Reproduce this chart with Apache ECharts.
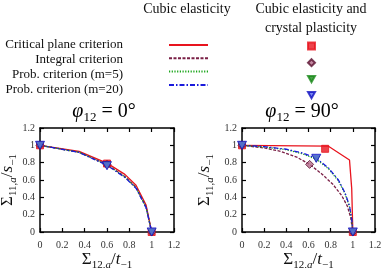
<!DOCTYPE html>
<html>
<head>
<meta charset="utf-8">
<script src="https://cdn.jsdelivr.net/npm/echarts@6/dist/echarts.min.js"></script>
<style>
  html, body { margin: 0; padding: 0; background: #fff; }
  #chart { width: 382px; height: 268px; }
</style>
</head>
<body>
<div id="chart"></div>
<script>
// legend / series names
const names = ["Critical plane criterion", "Integral criterion", "Prob. criterion (m=5)", "Prob. criterion (m=20)"];
const axisTicks = [0, 0.2, 0.4, 0.6, 0.8, 1, 1.2];

// phi12 = 0 : cubic elasticity curves [x, y]
const left_cp = [[0, 1], [0.35, 0.93], [0.6, 0.795], [0.76, 0.665], [0.86, 0.54], [0.95, 0.31], [1, 0]];
const left_int = [[0, 1], [0.35, 0.92], [0.6, 0.778], [0.76, 0.64], [0.86, 0.515], [0.95, 0.29], [1, 0]];
const left_m5 = [[0, 1], [0.35, 0.92], [0.6, 0.775], [0.76, 0.635], [0.86, 0.51], [0.95, 0.285], [1, 0]];
const left_m20 = [[0, 1], [0.35, 0.918], [0.6, 0.77], [0.76, 0.63], [0.86, 0.505], [0.95, 0.28], [1, 0]];
// phi12 = 0 : crystal plasticity points
const left_cp_pts = [[0, 1], [0.6, 0.79], [1, 0]];
const left_int_pts = [[0, 1], [0.6, 0.78], [1, 0]];
const left_m5_pts = [[0, 1], [0.6, 0.77], [1, 0]];
const left_m20_pts = [[0, 1], [0.6, 0.765], [1, 0]];

// phi12 = 90
const right_cp = [[0, 1], [0.78, 0.99], [0.97, 0.83], [0.99, 0.5], [1, 0]];
const right_int = [[0, 1], [0.2, 0.97], [0.35, 0.93], [0.5, 0.86], [0.61, 0.78], [0.72, 0.67], [0.82, 0.55], [0.9, 0.42], [0.95, 0.3], [0.98, 0.17], [1, 0]];
const right_m5 = [[0, 1], [0.2, 0.98], [0.4, 0.95], [0.55, 0.9], [0.67, 0.84], [0.78, 0.73], [0.87, 0.59], [0.93, 0.44], [0.97, 0.29], [0.99, 0.14], [1, 0]];
const right_m20 = [[0, 1], [0.2, 0.985], [0.4, 0.955], [0.55, 0.91], [0.67, 0.85], [0.78, 0.74], [0.87, 0.6], [0.93, 0.45], [0.97, 0.3], [0.99, 0.15], [1, 0]];
const right_cp_pts = [[0, 1], [0.75, 0.96], [1, 0]];
const right_int_pts = [[0, 1], [0.61, 0.78], [1, 0]];
const right_m5_pts = [[0, 1], [0.67, 0.845], [1, 0]];
const right_m20_pts = [[0, 1], [0.67, 0.85], [1, 0]];

const serif = "Liberation Serif";
const downTri = "path://M0,0 L10,0 L5,9 Z";
const lineStyles = [
  { color: "#e8141e", width: 1.3, type: "solid" },
  { color: "#7a1f45", width: 1.3, type: [3, 1.5] },
  { color: "#1aa51a", width: 1.3, type: [1.2, 1.5] },
  { color: "#1a1adc", width: 1.3, type: [5, 2, 1.5, 2] }
];
const markers = [
  { symbol: "rect", size: 7, rotate: 0, color: "#e8141e", border: "#e8141e" },
  { symbol: "diamond", size: 8, rotate: 0, color: "#b46a8a", border: "#5a1030" },
  { symbol: downTri, size: 7, rotate: 0, color: "#1a8a1a", border: "#1a8a1a" },
  { symbol: downTri, size: 9, rotate: 0, color: "#5a6af0", border: "#1010c0" }
];

function richSet(main, sub) {
  return {
    m: { fontFamily: serif, fontSize: main, lineHeight: main + 5, color: "#111" },
    i: { fontFamily: serif, fontSize: main, lineHeight: main + 5, fontStyle: "italic", color: "#111" },
    s: { fontFamily: serif, fontSize: sub, color: "#111", verticalAlign: "bottom" },
    si: { fontFamily: serif, fontSize: sub, fontStyle: "italic", color: "#111", verticalAlign: "bottom" }
  };
}

const grids = [
  { left: 40, top: 128, width: 134, height: 104, containLabel: false, outerBoundsMode: "none" },
  { left: 242, top: 128, width: 133, height: 104, containLabel: false, outerBoundsMode: "none" }
];

function mainX(i) {
  return {
    type: "value", gridIndex: i, min: 0, max: 1.2, interval: 0.2,
    name: "{m|Σ}{s|12,}{si|a}{m|/}{i|t}{s|−1}", nameLocation: "middle", nameGap: 12,
    nameTextStyle: { rich: richSet(17, 11) },
    axisLine: { show: true, onZero: false, lineStyle: { color: "#000", width: 1.5 } },
    axisTick: { inside: true, length: 4, lineStyle: { color: "#000", width: 1.2 } },
    axisLabel: { fontFamily: serif, fontSize: 10, color: "#333", margin: 8 },
    splitLine: { show: false }
  };
}
function mirrorX(i) {
  return {
    type: "value", gridIndex: i, position: "top", min: 0, max: 1.2, interval: 0.2,
    axisLine: { show: true, onZero: false, lineStyle: { color: "#000", width: 1.5 } },
    axisTick: { inside: true, length: 4, lineStyle: { color: "#000", width: 1.2 } },
    axisLabel: { show: false }, splitLine: { show: false }
  };
}
function mainY(i, gap) {
  return {
    type: "value", gridIndex: i, min: 0, max: 1.2, interval: 0.2,
    name: "{m|Σ}{s|11,}{si|a}{m|/}{i|s}{s|−1}", nameLocation: "middle", nameGap: gap, nameRotate: 90,
    nameTextStyle: { rich: richSet(17, 11) },
    axisLine: { show: true, onZero: false, lineStyle: { color: "#000", width: 1.5 } },
    axisTick: { inside: true, length: 4, lineStyle: { color: "#000", width: 1.2 } },
    axisLabel: { fontFamily: serif, fontSize: 10, color: "#333", margin: 5 },
    splitLine: { show: false }
  };
}
function mirrorY(i) {
  return {
    type: "value", gridIndex: i, position: "right", min: 0, max: 1.2, interval: 0.2,
    axisLine: { show: true, onZero: false, lineStyle: { color: "#000", width: 1.5 } },
    axisTick: { inside: true, length: 4, lineStyle: { color: "#000", width: 1.2 } },
    axisLabel: { show: false }, splitLine: { show: false }
  };
}

const curves = [[left_cp, left_int, left_m5, left_m20], [right_cp, right_int, right_m5, right_m20]];
const points = [[left_cp_pts, left_int_pts, left_m5_pts, left_m20_pts], [right_cp_pts, right_int_pts, right_m5_pts, right_m20_pts]];

const series = [];
[0, 1].forEach(function (g) {
  names.forEach(function (n, k) {
    series.push({
      name: n, type: "line", xAxisIndex: g * 2, yAxisIndex: g * 2,
      data: curves[g][k], symbol: "none", lineStyle: lineStyles[k], z: 2,
      itemStyle: { color: "transparent" }
    });
  });
});
[0, 1].forEach(function (g) {
  names.forEach(function (n, k) {
    series.push({
      name: n + " (CP)", type: "scatter", xAxisIndex: g * 2, yAxisIndex: g * 2,
      data: points[g][k], symbol: markers[k].symbol, symbolSize: markers[k].size,
      symbolRotate: markers[k].rotate, symbolKeepAspect: true, z: 5,
      itemStyle: { color: markers[k].color, borderColor: markers[k].border, borderWidth: 1 }
    });
  });
});

const labelTexts = names.map(function (n, k) {
  return {
    type: "text", x: 123, y: 45 + k * 14.7,
    style: { text: n, font: "13px " + serif, fill: "#111", textAlign: "right", textVerticalAlign: "middle" }
  };
});

function header(text, x, y) {
  return {
    type: "text", x: x, y: y,
    style: { text: text, font: "14px " + serif, fill: "#111", textAlign: "center", textVerticalAlign: "middle" }
  };
}
function plotTitle(text, x) {
  return {
    type: "text", x: x, y: 99,
    style: { text: text, rich: richSet(20, 13), textAlign: "center", textVerticalAlign: "top" }
  };
}

const option = {
  animation: false,
  grid: grids,
  xAxis: [mainX(0), mirrorX(0), mainX(1), mirrorX(1)],
  yAxis: [mainY(0, 20), mirrorY(0), mainY(1, 26), mirrorY(1)],
  legend: [
    {
      data: names, orient: "vertical", left: 168, top: 38, padding: 0,
      itemWidth: 39, itemHeight: 14, itemGap: 0.7, selectedMode: false,
      formatter: function () { return ""; }, textStyle: { fontSize: 1 }
    },
    {
      data: names.map(function (n, k) { return { name: n + " (CP)", icon: markers[k].symbol }; }),
      orient: "vertical", left: 307, top: 41.5, padding: 0,
      itemWidth: 7, itemHeight: 7, itemGap: 7.7, selectedMode: false,
      formatter: function () { return ""; }, textStyle: { fontSize: 1 }
    }
  ],
  graphic: labelTexts.concat([
    header("Cubic elasticity", 187, 9),
    header("Cubic elasticity and", 311, 9),
    header("crystal plasticity", 311, 28),
    plotTitle("{i|φ}{s|12}{m| = 0°}", 104),
    plotTitle("{i|φ}{s|12}{m| = 90°}", 302)
  ]),
  series: series
};

const myChart = echarts.init(document.getElementById("chart"));
myChart.setOption(option);
</script>
</body>
</html>
